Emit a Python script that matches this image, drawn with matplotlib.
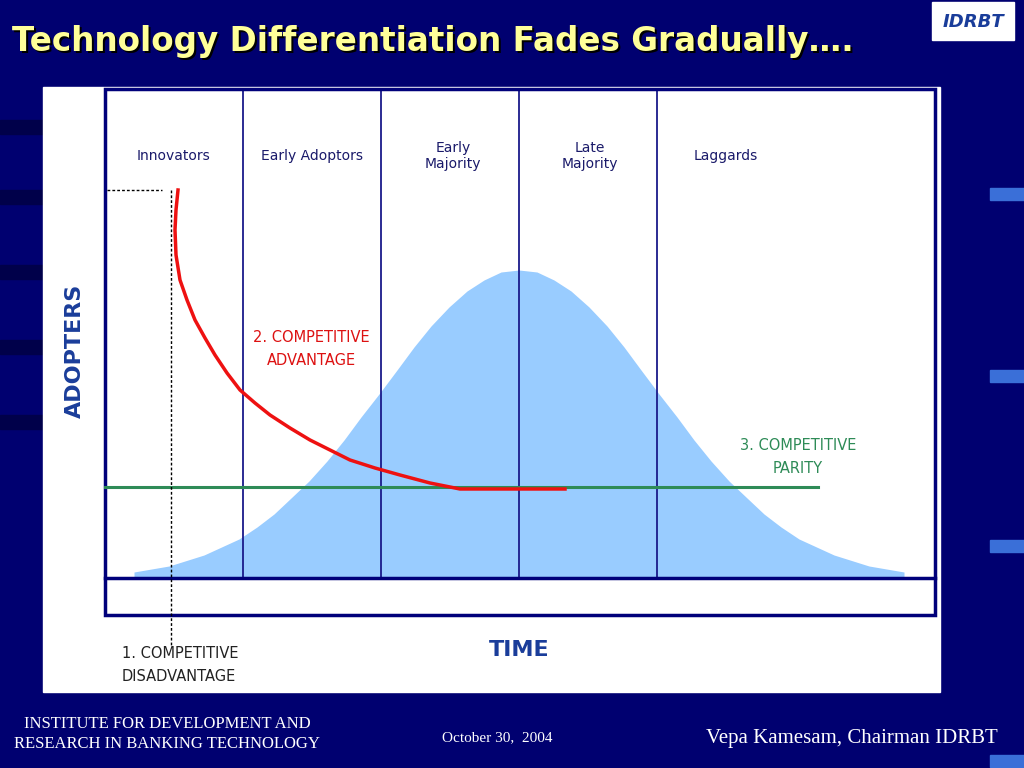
import matplotlib
matplotlib.use("Agg")
import matplotlib.pyplot as plt
import numpy as np

title = "Technology Differentiation Fades Gradually…."
phases = ["Innovators", "Early Adoptors", "Early\nMajority", "Late\nMajority", "Laggards"]
phase_x = [173, 312, 453, 590, 726]
dividers = [243, 381, 519, 657]
bell_offset = [-385, -350, -315, -280, -262, -245, -228, -210, -192, -175, -158, -140, -122, -105,
               -88, -70, -52, -35, -18, 0, 18, 35, 52, 70, 88, 105, 122, 140, 158, 175, 192,
               210, 228, 245, 262, 280, 315, 350, 385]
bell_height = [6, 12, 23, 39, 51, 64, 80, 97, 117, 138, 161, 184, 208, 231,
               252, 271, 287, 298, 306, 308, 306, 298, 287, 271, 252, 231, 208, 184, 161, 138, 117,
               97, 80, 64, 51, 39, 23, 12, 6]
bell_center = 519
red_x = [178, 176, 175, 176, 180, 187, 195, 205, 215, 227, 240, 255, 270, 290, 310, 330, 350, 375, 400, 430, 460, 565]
red_y = [190, 210, 230, 255, 280, 300, 320, 338, 355, 373, 390, 403, 415, 428, 440, 450, 460, 468, 475, 483, 489, 489]
parity_y = 487
parity_x = [105, 818]

fig = plt.figure(figsize=(10.24, 7.68), dpi=100)
fig.patch.set_facecolor("#000070")
ax = fig.add_axes([0, 0, 1, 1])
ax.set_xlim(0, 1024); ax.set_ylim(768, 0); ax.axis("off")

for y in [120, 190, 265, 340, 415]:
    ax.add_patch(plt.Rectangle((0, y), 45, 14, color="#00004a", zorder=0))
for y in [188, 370, 540, 755]:
    ax.add_patch(plt.Rectangle((990, y), 34, 12, color="#3a6fd8", zorder=0))

ax.text(14, 43, title, color="#000000", fontsize=23.5, fontweight="bold", va="center")
ax.text(12, 41, title, color="#ffff99", fontsize=23.5, fontweight="bold", va="center")
ax.add_patch(plt.Rectangle((932, 2), 82, 38, color="white", zorder=1))
ax.text(973, 22, "IDRBT", color="#1a3d9a", fontsize=13, fontweight="bold",
        fontstyle="italic", ha="center", va="center", zorder=2)

ax.add_patch(plt.Rectangle((43, 87), 897, 605, color="white", zorder=1))
bx = bell_center + np.array(bell_offset)
by = 578 - np.array(bell_height)
ax.fill_between(bx, by, 578, color="#99ccff", zorder=2, lw=0)
ax.add_patch(plt.Rectangle((105, 89), 830, 526, fill=False, ec="#00007a", lw=2.5, zorder=4))
ax.plot([105, 935], [578, 578], color="#00007a", lw=2.5, zorder=4)
for d in dividers:
    ax.plot([d, d], [89, 578], color="#1a1a8a", lw=1.3, zorder=3)
for name, x in zip(phases, phase_x):
    ax.text(x, 156, name, ha="center", va="center", fontsize=10, color="#1a1a6a", zorder=5)
ax.plot(parity_x, [parity_y] * 2, color="#2e8b57", lw=2.2, zorder=5)
ax.plot(red_x, red_y, color="#ee1111", lw=2.5, zorder=6)
ax.plot([107, 162], [190, 190], color="black", lw=1, ls=(0, (2, 1.5)), zorder=5)
ax.plot([171, 171], [190, 645], color="black", lw=1, ls=(0, (2, 1.5)), zorder=5)
ax.text(311, 349, "2. COMPETITIVE\nADVANTAGE", color="#dd1111", ha="center", va="center",
        fontsize=10.5, linespacing=1.6, zorder=6)
ax.text(798, 457, "3. COMPETITIVE\nPARITY", color="#2e8b57", ha="center", va="center",
        fontsize=10.5, linespacing=1.6, zorder=6)
ax.text(122, 665, "1. COMPETITIVE\nDISADVANTAGE", color="#222222", ha="left", va="center",
        fontsize=10.5, linespacing=1.6, zorder=6)
ax.text(519, 650, "TIME", color="#1a3d9a", ha="center", va="center", fontsize=16,
        fontweight="bold", zorder=6)
ax.text(75, 351, "ADOPTERS", color="#1a3d9a", ha="center", va="center", fontsize=16,
        fontweight="bold", rotation=90, zorder=6)

ax.text(167, 734, "INSTITUTE FOR DEVELOPMENT AND\nRESEARCH IN BANKING TECHNOLOGY", color="white",
        ha="center", va="center", fontsize=12, family="Liberation Serif", linespacing=1.3)
ax.text(497, 738, "October 30,  2004", color="white", ha="center", va="center", fontsize=11,
        family="Liberation Serif")
ax.text(852, 738, "Vepa Kamesam, Chairman IDRBT", color="white", ha="center", va="center",
        fontsize=15, family="Liberation Serif")
fig.savefig("out.png", dpi=100, facecolor=fig.get_facecolor())
